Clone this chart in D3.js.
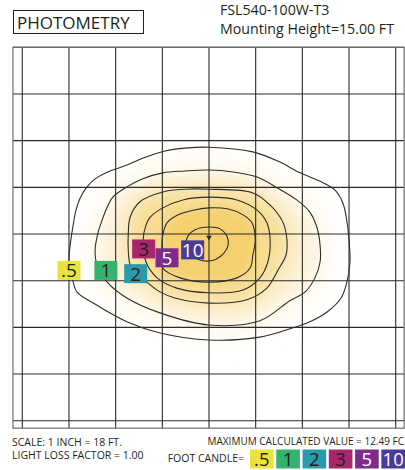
<!DOCTYPE html>
<html lang="en">
<head>
    <meta charset="UTF-8" />
    <title>Photometry - FSL540-100W-T3</title>
    <script src="https://d3js.org/d3.v7.min.js"></script>
    <style>
        body {
            margin: 0;
            background: #fff;
        }
        svg text {
            font-family: "Open Sans", sans-serif;
            fill: #231f20;
        }
    </style>
</head>
<body>
    <svg id="chart" width="405" height="470"></svg>
    <script>
        // grid ticks, in feet from the pole (y grows toward the street side)
        const gridTicks = [-40, -30, -20, -10, 0, 10, 20, 30, 40];
        const frameFt = [-42, 41.8, -40, 41.6];

        // iso-footcandle levels and their contours (ft)
        const levels = [".5", "1", "2", "3", "5", "10"];
        const iso05 = [[0, -18.6], [9.4, -17.6], [15.2, -15.4], [19.5, -13.1], [23.8, -11.3], [27.0, -9.4],
            [28.7, -6.6], [29.5, -3.0], [30.0, 1.3], [30.2, 6.0], [29.5, 10.5], [28.3, 13.7], [25.3, 16.7],
            [21.6, 18.8], [18.0, 20.1], [10.9, 22.1], [0, 22.7], [-10.5, 21.2], [-17.6, 18.8], [-24.8, 14.8],
            [-28.3, 12.4], [-29.3, 9.4], [-30.0, 5.6], [-29.6, 1.3], [-29.1, -1.9], [-28.5, -5.1],
            [-27.6, -7.7], [-26.3, -9.9], [-24.4, -11.8], [-21.2, -13.5], [-18.0, -14.6], [-14.1, -16.3],
            [-9.4, -17.8], [-5.1, -18.4]];
        const iso1 = [[0, -13.7], [5.1, -13.3], [10.3, -12.2], [14.6, -9.9], [18.8, -7.3], [21.6, -4.7],
            [23.1, -1.5], [23.8, 2.4], [23.8, 6.0], [22.7, 9.4], [20.6, 12.4], [17.3, 14.3], [10.9, 18.6],
            [0, 19.5], [-10.5, 16.9], [-17.6, 13.7], [-21.8, 10.3], [-24.0, 6.6], [-24.4, 3.4], [-23.8, -0.2],
            [-22.9, -3.0], [-21.8, -5.8], [-20.6, -7.9], [-17.6, -10.1], [-14.3, -11.8], [-9.9, -13.1],
            [-5.1, -13.5]];
        const iso2 = [[0, -9.6], [9.4, -8.8], [13.1, -6.2], [15.8, -2.6], [16.7, 1.3], [16.5, 4.5],
            [14.8, 7.7], [12.4, 11.6], [8.1, 14.1], [0, 14.8], [-7.3, 13.7], [-10.5, 12.4], [-13.3, 10.3],
            [-16.7, 7.1], [-17.3, 3.4], [-17.3, 0.2], [-16.9, -3.6], [-14.8, -6.9], [-9.9, -9.0], [-5.1, -9.6]];
        const iso3 = [[0, -7.9], [6.0, -7.3], [10.3, -5.1], [12.4, -2.4], [13.1, 1.3], [12.6, 6.0],
            [10.9, 9.4], [7.3, 12.0], [0, 12.6], [-6.9, 11.6], [-11.1, 9.4], [-13.5, 6.0], [-14.1, 1.3],
            [-13.5, -1.9], [-12.6, -3.6], [-9.9, -5.6], [-5.6, -7.3]];
        const iso5 = [[0, -5.6], [3.9, -5.4], [7.3, -4.1], [9.2, -2.4], [9.9, 1.3], [9.4, 4.5], [8.8, 7.3],
            [6.0, 9.4], [0, 10.3], [-6.2, 9.4], [-9.9, 7.3], [-10.1, 3.4], [-9.9, 0.2], [-9.0, -2.4],
            [-6.6, -4.1], [-3.4, -5.1]];
        const iso10 = [[0, -1.5], [2.4, -1.1], [3.9, 0.6], [4.1, 2.4], [3.2, 4.1], [1.5, 5.4], [0, 5.8],
            [-2.4, 5.4], [-4.3, 3.9], [-4.9, 1.9], [-4.5, 0.4], [-3.0, -0.9]];
        const labelPos = [[-30.0, 7.8], [-22.1, 7.8], [-15.7, 8.5], [-14.0, 3.2], [-9.0, 5.1], [-3.5, 3.4]];
        const pole = [0, 0.7];

        const titleText = "PHOTOMETRY";
        const headerLines = ["FSL540-100W-T3", "Mounting Height=15.00 FT"];
        const footLeft = ["SCALE: 1 INCH = 18 FT.", "LIGHT LOSS FACTOR = 1.00"];
        const footRight = "MAXIMUM CALCULATED VALUE = 12.49 FC";
        const legendTitle = "FOOT CANDLE=";

        const boxFill = ["#e9e43b", "#33b36b", "#2a9bab", "#a9266e", "#7e2b8d", "#4a3a98"];
        const boxInk = ["#231f20", "#231f20", "#231f20", "#231f20", "#fff", "#fff"];

        const svg = d3.select("#chart");

        const x = d3.scaleLinear().domain([-40, 40]).range([22.3, 395.7]);
        const y = d3.scaleLinear().domain([-40, 40]).range([47.3, 420.7]);

        const contourLine = d3.line()
            .x(d => x(d[0]))
            .y(d => y(d[1]))
            .curve(d3.curveCatmullRomClosed.alpha(0.5));

        // soft yellow glow under the bright core
        const defs = svg.append("defs");
        [["blurWide", 15], ["blurMid", 10], ["blurNarrow", 6]].forEach(([id, sd]) => {
            defs.append("filter").attr("id", id)
                .attr("x", "-50%").attr("y", "-50%").attr("width", "200%").attr("height", "200%")
                .append("feGaussianBlur").attr("stdDeviation", sd);
        });

        const glow = svg.append("g");
        glow.append("path")
            .attr("d", contourLine(iso1))
            .attr("fill", "#fcf0d2")
            .attr("filter", "url(#blurWide)");
        glow.append("path")
            .attr("d", contourLine(iso2))
            .attr("fill", "#f7dc91")
            .attr("filter", "url(#blurMid)");
        glow.append("path")
            .attr("d", contourLine(iso5))
            .attr("fill", "#f4d06e")
            .attr("filter", "url(#blurNarrow)");

        // grid
        const grid = svg.append("g")
            .attr("stroke", "#2b2b2b")
            .attr("stroke-width", 1.1);

        grid.selectAll("line.v")
            .data(gridTicks)
            .join("line")
            .attr("class", "v")
            .attr("x1", d => x(d)).attr("x2", d => x(d))
            .attr("y1", y(frameFt[2])).attr("y2", y(frameFt[3]));

        grid.selectAll("line.h")
            .data(gridTicks)
            .join("line")
            .attr("class", "h")
            .attr("x1", x(frameFt[0])).attr("x2", x(frameFt[1]))
            .attr("y1", d => y(d)).attr("y2", d => y(d));

        svg.append("rect")
            .attr("x", x(frameFt[0]))
            .attr("y", y(frameFt[2]))
            .attr("width", x(frameFt[1]) - x(frameFt[0]))
            .attr("height", y(frameFt[3]) - y(frameFt[2]))
            .attr("fill", "none")
            .attr("stroke", "#6d6d6d")
            .attr("stroke-width", 1.2);

        // contours
        svg.append("g")
            .selectAll("path")
            .data([iso05, iso1, iso2, iso3, iso5, iso10])
            .join("path")
            .attr("d", d => contourLine(d))
            .attr("fill", "none")
            .attr("stroke", "#2e2e2e")
            .attr("stroke-width", 1.1);

        // pole marker
        svg.append("path")
            .attr("d", d3.symbol(d3.symbolTriangle, 14))
            .attr("transform", `translate(${x(pole[0])},${y(pole[1])}) rotate(180)`)
            .attr("fill", "#2e2e2e");

        // contour labels
        const labels = svg.append("g")
            .selectAll("g")
            .data(levels)
            .join("g")
            .attr("transform", (d, i) => `translate(${x(labelPos[i][0])},${y(labelPos[i][1])})`);

        labels.append("rect")
            .attr("x", -11.5).attr("y", -9.5)
            .attr("width", 23).attr("height", 19)
            .attr("fill", (d, i) => boxFill[i]);

        labels.append("text")
            .attr("text-anchor", "middle")
            .attr("y", 7)
            .attr("font-size", 19)
            .style("fill", (d, i) => boxInk[i])
            .text(d => d);

        // header
        svg.append("rect")
            .attr("x", 13.5).attr("y", 10.5)
            .attr("width", 130).attr("height", 23)
            .attr("fill", "none")
            .attr("stroke", "#231f20")
            .attr("stroke-width", 1);

        svg.append("text")
            .attr("x", 17).attr("y", 29)
            .attr("font-size", 17)
            .text(titleText);

        svg.selectAll("text.head")
            .data(headerLines)
            .join("text")
            .attr("class", "head")
            .attr("x", 220)
            .attr("y", (d, i) => 14.5 + i * 19)
            .attr("font-size", 14.2)
            .text(d => d);

        // footer
        svg.selectAll("text.foot")
            .data(footLeft)
            .join("text")
            .attr("class", "foot")
            .attr("x", 12)
            .attr("y", (d, i) => 445.5 + i * 13.5)
            .attr("font-size", 10.5)
            .text(d => d);

        svg.append("text")
            .attr("x", 404)
            .attr("y", 445)
            .attr("text-anchor", "end")
            .attr("font-size", 10)
            .text(footRight);

        svg.append("text")
            .attr("x", 244)
            .attr("y", 461.5)
            .attr("text-anchor", "end")
            .attr("font-size", 10.5)
            .text(legendTitle);

        const legendX = d3.scaleBand().domain(levels).range([250, 405]).paddingInner(0.1);

        const legend = svg.append("g")
            .selectAll("g")
            .data(levels)
            .join("g")
            .attr("transform", d => `translate(${legendX(d)},449.5)`);

        legend.append("rect")
            .attr("width", legendX.bandwidth())
            .attr("height", 19)
            .attr("fill", (d, i) => boxFill[i]);

        legend.append("text")
            .attr("x", legendX.bandwidth() / 2)
            .attr("y", 16.5)
            .attr("text-anchor", "middle")
            .attr("font-size", 18.5)
            .style("fill", (d, i) => boxInk[i])
            .text(d => d);
    </script>
</body>
</html>
